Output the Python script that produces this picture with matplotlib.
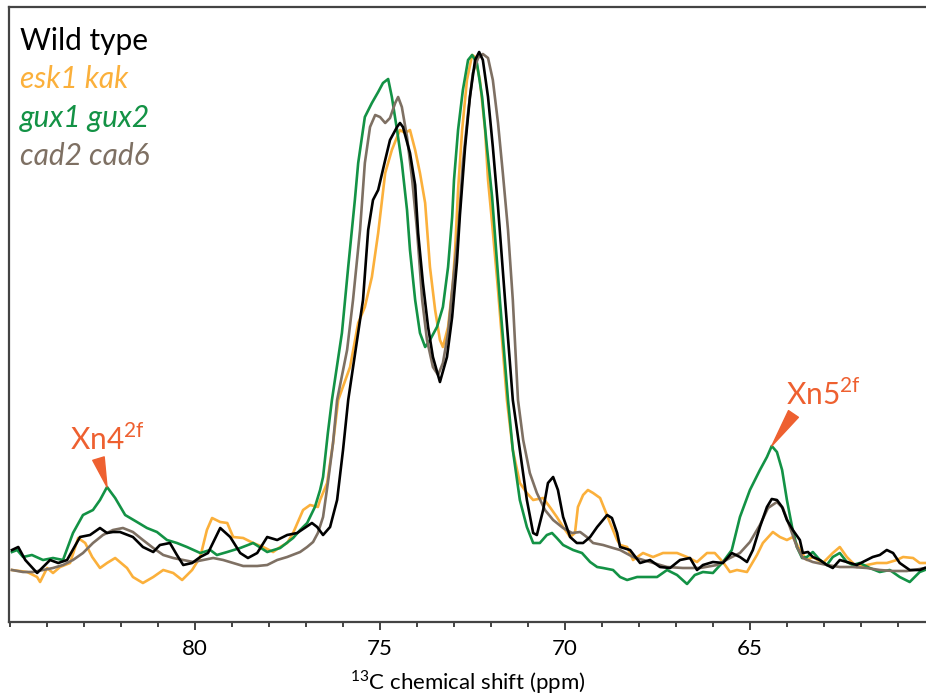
import matplotlib
matplotlib.use("Agg")
import matplotlib.pyplot as plt
from matplotlib.ticker import MultipleLocator

plt.rcParams["font.family"] = ["Lato", "DejaVu Sans"]
plt.rcParams["mathtext.fontset"] = "custom"
plt.rcParams["mathtext.rm"] = "Lato"

# 13C shift (ppm) and intensity (a.u.)
wt_ppm = [84.95, 84.78, 84.59, 84.27, 84.11, 83.92, 83.70, 83.46, 83.11, 82.84, 82.57, 82.38,
          82.22, 82.03, 81.68, 81.41, 81.13, 80.95, 80.68, 80.49, 80.32, 80.08, 79.86, 79.65,
          79.32, 79.05, 78.78, 78.57, 78.32, 78.05, 77.78, 77.51, 77.24, 76.84, 76.70, 76.54,
          76.35, 76.16, 76.00, 75.86, 75.68, 75.46, 75.32, 75.19, 75.05, 74.86, 74.73, 74.54,
          74.46, 74.38, 74.19, 74.05, 73.97, 73.84, 73.70, 73.57, 73.38, 73.19, 73.05, 72.92,
          72.84, 72.70, 72.57, 72.43, 72.32, 72.22, 72.08, 71.95, 71.81, 71.62, 71.41, 71.22,
          71.03, 70.86, 70.76, 70.59, 70.46, 70.32, 70.19, 70.05, 69.86, 69.68, 69.51, 69.32,
          69.13, 68.86, 68.73, 68.59, 68.51, 68.24, 67.97, 67.70, 67.43, 67.16, 66.89, 66.62,
          66.43, 66.27, 66.00, 65.73, 65.49, 65.27, 65.08, 64.92, 64.73, 64.54, 64.41, 64.27,
          64.13, 64.00, 63.84, 63.65, 63.57, 63.43, 63.30, 63.11, 62.92, 62.76, 62.57, 62.38,
          62.11, 61.84, 61.68, 61.49, 61.30, 61.13, 60.95, 60.68, 60.41, 60.27]
wt_int = [20, 23, 10, -3, 3, 10, 7, 10, 33, 35, 42, 37,
          38, 38, 33, 23, 18, 25, 27, 15, 5, 7, 13, 17,
          42, 33, 17, 12, 17, 33, 30, 35, 37, 47, 43, 35,
          43, 70, 120, 170, 215, 270, 340, 370, 380, 410, 430, 443,
          447, 443, 417, 385, 337, 287, 243, 213, 188, 213, 253, 308,
          355, 423, 473, 510, 518, 510, 473, 423, 363, 270, 170, 120,
          70, 37, 35, 60, 87, 93, 80, 53, 33, 27, 27, 33,
          43, 55, 52, 37, 23, 20, 7, 10, 3, 2, 10, 12,
          0, 5, 8, 7, 17, 13, 8, 20, 43, 63, 71, 70,
          63, 50, 40, 30, 17, 18, 13, 10, 5, 2, 10, 8,
          5, 10, 13, 15, 20, 17, 7, 0, 0, 2]

esk_ppm = [84.95, 84.54, 84.27, 84.19, 84.00, 83.84, 83.65, 83.38, 83.16, 82.97, 82.78, 82.57,
           82.38, 82.16, 81.84, 81.68, 81.41, 81.13, 80.86, 80.59, 80.35, 80.08, 79.86, 79.68,
           79.54, 79.32, 79.13, 78.97, 78.70, 78.43, 78.16, 77.89, 77.70, 77.51, 77.35, 77.08,
           76.89, 76.68, 76.62, 76.43, 76.27, 76.13, 75.81, 75.59, 75.41, 75.22, 75.05, 74.86,
           74.68, 74.54, 74.46, 74.32, 74.19, 74.05, 73.92, 73.78, 73.65, 73.51, 73.38, 73.30,
           73.16, 73.03, 72.97, 72.89, 72.78, 72.65, 72.51, 72.43, 72.30, 72.16, 72.08, 71.97,
           71.81, 71.57, 71.41, 71.22, 71.03, 70.86, 70.59, 70.41, 70.22, 70.05, 69.86, 69.73,
           69.65, 69.51, 69.38, 69.24, 69.05, 68.92, 68.78, 68.59, 68.51, 68.32, 68.16, 67.89,
           67.62, 67.35, 66.97, 66.70, 66.43, 66.16, 65.95, 65.73, 65.54, 65.35, 65.08, 64.81,
           64.65, 64.38, 64.19, 64.00, 63.84, 63.65, 63.46, 63.30, 63.03, 62.76, 62.57, 62.38,
           62.11, 61.84, 61.57, 61.30, 61.03, 60.86, 60.59, 60.41, 60.27]
esk_int = [0, -2, -7, -12, 2, -3, 3, 7, 32, 27, 13, 2,
           7, 12, 2, -7, -13, -7, 0, -3, -10, 0, 13, 40,
           52, 48, 47, 33, 32, 27, 23, 18, 23, 27, 37, 60,
           65, 63, 70, 87, 127, 170, 203, 247, 263, 293, 337, 397,
           420, 433, 440, 437, 440, 420, 397, 367, 303, 260, 230, 223,
           243, 287, 320, 380, 440, 490, 515, 513, 490, 440, 390, 347,
           280, 170, 120, 87, 77, 70, 72, 63, 53, 43, 33, 37,
           63, 75, 80, 77, 72, 60, 47, 30, 25, 23, 10, 17,
           13, 17, 17, 13, 8, 17, 17, 8, -2, 0, -2, 15,
           27, 38, 33, 30, 33, 20, 10, 13, 7, 17, 23, 13,
           3, 5, 7, 7, 10, 13, 12, 7, 7]

gux_ppm = [84.95, 84.81, 84.65, 84.41, 84.11, 83.84, 83.57, 83.30, 83.03, 82.76, 82.57, 82.38,
           82.16, 81.89, 81.57, 81.30, 81.03, 80.76, 80.49, 80.22, 79.86, 79.59, 79.41, 79.13,
           78.78, 78.43, 78.05, 77.70, 77.35, 77.16, 76.97, 76.76, 76.62, 76.54, 76.41, 76.30,
           76.03, 75.86, 75.68, 75.59, 75.41, 75.22, 75.05, 74.92, 74.78, 74.68, 74.54, 74.41,
           74.27, 74.19, 74.05, 73.92, 73.78, 73.65, 73.46, 73.30, 73.16, 73.05, 73.00, 72.89,
           72.76, 72.62, 72.51, 72.38, 72.24, 72.11, 71.97, 71.76, 71.54, 71.41, 71.22, 71.03,
           70.86, 70.68, 70.49, 70.35, 70.22, 70.05, 69.78, 69.54, 69.32, 69.13, 68.97, 68.70,
           68.51, 68.32, 68.05, 67.78, 67.51, 67.24, 66.97, 66.70, 66.49, 66.27, 66.00, 65.73,
           65.49, 65.27, 65.00, 64.73, 64.54, 64.41, 64.27, 64.13, 64.00, 63.86, 63.73, 63.59,
           63.46, 63.30, 63.11, 62.92, 62.76, 62.57, 62.38, 62.22, 62.03, 61.76, 61.49, 61.22,
           60.95, 60.68, 60.41, 60.27]
gux_int = [18, 20, 13, 15, 10, 12, 10, 37, 55, 60, 70, 83,
           72, 55, 48, 42, 38, 30, 27, 23, 17, 20, 15, 18,
           22, 27, 18, 22, 32, 40, 47, 63, 80, 93, 137, 170,
           237, 303, 370, 407, 453, 467, 478, 487, 491, 473, 440, 407,
           360, 320, 270, 237, 223, 230, 243, 263, 303, 353, 390, 440,
           480, 510, 515, 507, 473, 423, 373, 270, 170, 120, 70, 43,
           27, 27, 35, 37, 32, 25, 20, 17, 8, 3, 2, 0,
           -7, -10, -7, -7, -7, 0, -5, -14, -5, -2, -3, 8,
           20, 53, 80, 100, 113, 124, 118, 100, 70, 43, 23, 12,
           13, 18, 10, 5, 13, 17, 8, 5, 7, 2, -2, 0,
           -7, -12, -2, 0]

cad_ppm = [84.95, 84.65, 84.38, 84.11, 83.84, 83.57, 83.30, 83.03, 82.76, 82.49, 82.22, 81.95,
           81.68, 81.41, 81.13, 80.86, 80.59, 80.32, 80.05, 79.78, 79.51, 79.24, 78.97, 78.70,
           78.32, 78.05, 77.78, 77.51, 77.16, 76.97, 76.81, 76.68, 76.54, 76.41, 76.27, 76.16,
           75.89, 75.73, 75.54, 75.41, 75.27, 75.13, 75.00, 74.86, 74.73, 74.59, 74.51, 74.41,
           74.27, 74.13, 74.00, 73.86, 73.73, 73.57, 73.43, 73.30, 73.16, 73.03, 72.89, 72.76,
           72.62, 72.49, 72.35, 72.22, 72.08, 71.95, 71.81, 71.68, 71.54, 71.41, 71.27, 71.13,
           70.95, 70.76, 70.54, 70.32, 70.05, 69.81, 69.59, 69.41, 69.24, 68.97, 68.70, 68.51,
           68.16, 67.70, 67.24, 66.81, 66.35, 65.89, 65.54, 65.27, 65.00, 64.73, 64.51, 64.27,
           64.11, 63.92, 63.73, 63.57, 63.30, 62.92, 62.57, 62.22, 61.84, 61.49, 61.13, 60.76,
           60.41, 60.27]
cad_int = [0, -2, -2, 0, 2, 5, 10, 17, 27, 35, 40, 42,
           38, 30, 22, 15, 12, 10, 8, 10, 12, 10, 7, 4,
           4, 5, 10, 13, 18, 23, 28, 37, 53, 87, 127, 170,
           220, 270, 340, 407, 443, 455, 453, 447, 452, 467, 473, 463,
           433, 390, 340, 270, 230, 203, 195, 207, 237, 287, 337, 407,
           457, 497, 512, 516, 512, 490, 447, 397, 340, 270, 170, 130,
           97, 77, 60, 50, 42, 37, 38, 33, 27, 25, 22, 20,
           13, 8, 3, 2, 2, 5, 12, 17, 28, 45, 62, 68,
           62, 43, 23, 12, 8, 5, 3, 3, 2, 0, -1, -1,
           1, 2]

labels = ["Wild type", "esk1 kak", "gux1 gux2", "cad2 cad6"]
colors = ["#000000", "#FBB03B", "#139245", "#7E7063"]
styles = ["normal", "italic", "italic", "italic"]

# annotated peaks (gux1 gux2 maxima)
peak_labels = [r"Xn4$^{\mathregular{2f}}$", r"Xn5$^{\mathregular{2f}}$"]
peak_ppm = [82.38, 64.41]
peak_int = [83, 124]
mark_color = "#EE6030"

major_ticks = [80, 75, 70, 65]

fig = plt.figure(figsize=(9.26, 6.97), dpi=100)
ax = fig.add_axes([9 / 926, 1 - 622 / 697, 1 - 9 / 926, 615 / 697])

series = [(wt_ppm, wt_int), (esk_ppm, esk_int), (gux_ppm, gux_int), (cad_ppm, cad_int)]
order = [1, 2, 3, 0]
for i in order:
    x, y = series[i]
    ax.plot(x, y, color=colors[i], lw=1.9, solid_joinstyle="round", zorder=2 + order.index(i))

ax.set_xlim(85.03, 60.24)
ax.set_ylim(-52, 563)
ax.set_xticks(major_ticks)
ax.xaxis.set_minor_locator(MultipleLocator(1))
ax.tick_params(axis="x", which="major", length=6, width=1.2, pad=6, labelsize=16, color="#222222")
ax.tick_params(axis="x", which="minor", length=3.5, width=1.2, color="#222222")
ax.set_yticks([])
for side in ["left", "top", "bottom"]:
    ax.spines[side].set_color("#444444")
    ax.spines[side].set_linewidth(1.6)
ax.spines["right"].set_visible(False)
ax.set_xlabel(r"$^{\mathregular{13}}$C chemical shift (ppm)", fontsize=16, labelpad=7)

for k, (lab, col, sty) in enumerate(zip(labels, colors, styles)):
    ax.text(0.012, 0.930 - k * 0.0623, lab, color=col, fontstyle=sty, fontsize=21.5,
            transform=ax.transAxes, va="baseline", ha="left")

offsets = [(-27, 27), (10, 29.5)]
rel = [(0.37, 0.0), (0.14, 0.0)]
for lab, px, py, off, rp in zip(peak_labels, peak_ppm, peak_int, offsets, rel):
    ax.annotate(lab, xy=(px, py), xytext=off, textcoords="offset points",
                ha="left", va="baseline", fontsize=21.5, color=mark_color,
                arrowprops=dict(arrowstyle="wedge,tail_width=0.4,shrink_factor=0.5",
                                color=mark_color, relpos=rp, shrinkA=1, shrinkB=0))

fig.savefig("out.png", dpi=100)
